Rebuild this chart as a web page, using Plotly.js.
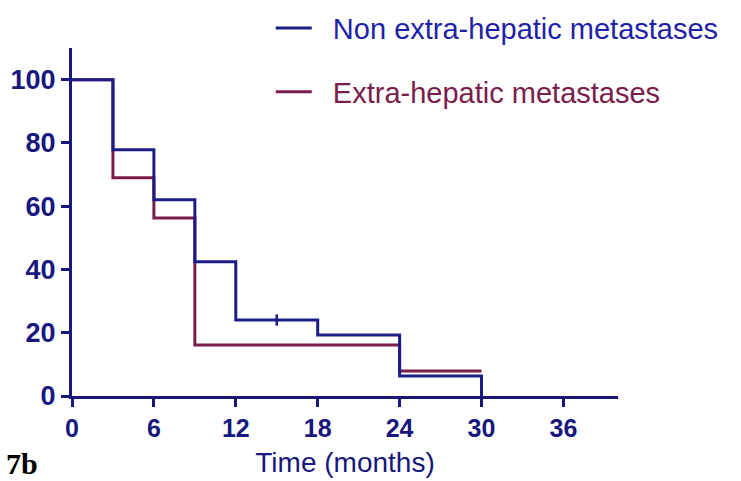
<!DOCTYPE html>
<html>
<head>
<meta charset="utf-8">
<script src="https://cdn.plot.ly/plotly-3.0.1.min.js"></script>
<style>html,body{margin:0;padding:0;background:#fff;}#chart{width:741px;height:481px;}</style>
</head>
<body>
<div id="chart"></div>
<script>
// Kaplan-Meier survival (%) by time (months)
const nonExtraTimes = [0, 3, 6, 9, 12, 18, 24, 30];
const nonExtraSurv  = [100, 77.8, 62, 42.4, 24, 19.3, 6.3, 0];
const nonExtraCensorTimes = [15];
const nonExtraCensorSurv  = [24];

const extraTimes = [0, 3, 6, 9, 24, 30];
const extraSurv  = [100, 69, 56.3, 16.1, 7.9, 7.9];

const xTicks = [0, 6, 12, 18, 24, 30, 36];
const yTicks = [0, 20, 40, 60, 80, 100];

const blue = '#1c1c86';
const red = '#7a1c4c';
const axisCol = '#17177d';
const sans = 'Liberation Sans, Arial, sans-serif';

const traces = [
  {x: extraTimes, y: extraSurv, mode: 'lines', line: {shape: 'hv', color: red, width: 3},
   name: '&nbsp;&nbsp;<span style="color:#7a1c4c">Extra-hepatic metastases</span>', legendrank: 2, legendgroup: 'b'},
  {x: nonExtraTimes, y: nonExtraSurv, mode: 'lines', line: {shape: 'hv', color: blue, width: 3},
   name: '&nbsp;&nbsp;<span style="color:#1f1fa8">Non extra-hepatic metastases</span>', legendrank: 1, legendgroup: 'a'},
  {x: nonExtraCensorTimes, y: nonExtraCensorSurv, mode: 'markers', showlegend: false,
   marker: {symbol: 'line-ns', size: 8, line: {color: blue, width: 2.5}}, legendgroup: 'a'}
];

const layout = {
  width: 741, height: 481,
  margin: {l: 72, r: 123, t: 48, b: 85, autoexpand: false},
  paper_bgcolor: '#fff', plot_bgcolor: '#fff',
  showlegend: true,
  legend: {x: 0.364, y: 1.13, xanchor: 'left', yanchor: 'top', traceorder: 'grouped',
           tracegroupgap: 23, font: {family: sans, size: 29},
           bgcolor: 'rgba(0,0,0,0)', itemwidth: 36},
  xaxis: {range: [0, 40], tickvals: xTicks, ticktext: xTicks.map(String), showgrid: false, zeroline: false,
          showline: true, linecolor: axisCol, linewidth: 3, ticks: 'outside', ticklen: 8, tickwidth: 3,
          tickcolor: axisCol, tickfont: {family: sans, size: 25, color: axisCol, weight: 'bold'},
          title: {text: 'Time (months)', standoff: 12, font: {family: sans, size: 28, color: axisCol}},
          automargin: false, fixedrange: true},
  yaxis: {range: [0, 110], tickvals: yTicks, ticktext: yTicks.map(String), showgrid: false, zeroline: false,
          showline: true, linecolor: axisCol, linewidth: 3, ticks: 'outside', ticklen: 8, tickwidth: 3,
          tickcolor: axisCol, tickfont: {family: sans, size: 27, color: axisCol, weight: 'bold'},
          automargin: false, fixedrange: true},
  annotations: [
    {text: '<b>7b</b>', xref: 'paper', yref: 'paper', x: -0.124, y: -0.193, xanchor: 'left', yanchor: 'middle',
     showarrow: false, font: {family: 'Liberation Serif, Times New Roman, serif', size: 30, color: '#000'}}
  ]
};

Plotly.newPlot('chart', traces, layout, {displayModeBar: false, staticPlot: true});
</script>
</body>
</html>
